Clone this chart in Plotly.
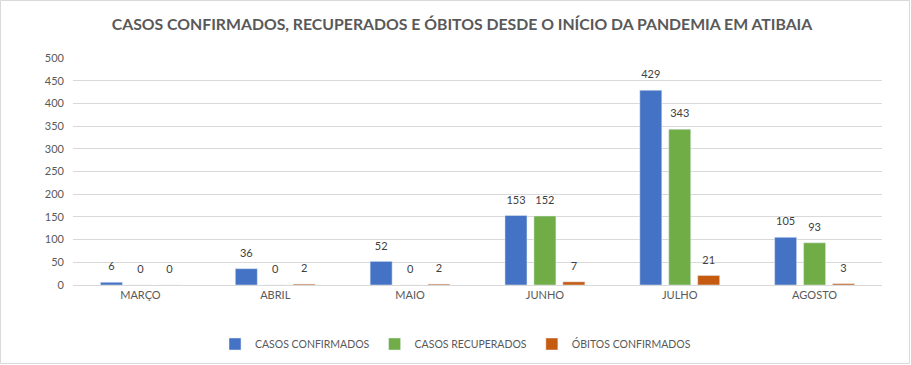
import plotly.graph_objects as go

meses = ["MARÇO", "ABRIL", "MAIO", "JUNHO", "JULHO", "AGOSTO"]
confirmados = [6, 36, 52, 153, 429, 105]
recuperados = [0, 0, 0, 152, 343, 93]
obitos = [0, 2, 2, 7, 21, 3]
y_ticks = [0, 50, 100, 150, 200, 250, 300, 350, 400, 450, 500]

series = [
    ("CASOS CONFIRMADOS", confirmados, "#4472C4"),
    ("CASOS RECUPERADOS", recuperados, "#70AD47"),
    ("ÓBITOS CONFIRMADOS", obitos, "#C55A11"),
]

FONT = "Lato, sans-serif"
GAP = 0.356

fig = go.Figure()
for i, (name, vals, color) in enumerate(series):
    fig.add_trace(go.Bar(
        x=meses, y=vals, name=name, marker_color=color,
        offsetgroup=str(i), alignmentgroup="a",
    ))
for i, (name, vals, color) in enumerate(series):
    fig.add_trace(go.Scatter(
        x=meses, y=vals, mode="markers+text", text=[str(v) for v in vals],
        textposition="top center", textfont=dict(family=FONT, size=11, color="#404040"),
        marker=dict(size=13, color="rgba(0,0,0,0)"), showlegend=False, hoverinfo="skip",
        offsetgroup=str(i), alignmentgroup="a", cliponaxis=False,
    ))

W, H = 911, 365
ml, mr, mt, mb = 73, 29, 58, 80
pw, ph = W - ml - mr, H - mt - mb

fig.update_layout(
    width=W, height=H,
    margin=dict(l=ml, r=mr, t=mt, b=mb, autoexpand=False),
    paper_bgcolor="white", plot_bgcolor="white",
    font=dict(family=FONT, size=11, color="#595959"),
    title=dict(text="<b>CASOS CONFIRMADOS, RECUPERADOS E ÓBITOS DESDE O INÍCIO DA PANDEMIA EM ATIBAIA</b>",
               x=462 / W, xanchor="center", y=1 - 24 / H, yanchor="middle",
               font=dict(family=FONT, size=15.8, color="#595959")),
    barmode="group", bargap=GAP, bargroupgap=0.24,
    scattermode="group", scattergap=GAP,
    showlegend=True,
    legend=dict(orientation="h", x=(455.5 - ml) / pw, xanchor="center", y=-(344 - 285) / ph,
                yanchor="middle", font=dict(family=FONT, size=10.5, color="#595959"),
                itemwidth=30, traceorder="normal"),
    xaxis=dict(showgrid=False, showline=True, linecolor="#D9D9D9", ticks="",
               tickfont=dict(family=FONT, size=11, color="#595959")),
    yaxis=dict(range=[0, 500], tickvals=y_ticks, showgrid=True, gridcolor="#D9D9D9",
               zeroline=False, showline=False, ticks="", ticklabelstandoff=8,
               tickfont=dict(family=FONT, size=11, color="#595959")),
    shapes=[dict(type="rect", xref="paper", yref="paper",
                 x0=-(ml - 0.5) / pw, x1=(W - ml - 1.5) / pw,
                 y0=-(mb - 1.5) / ph, y1=(ph + mt - 0.5) / ph,
                 line=dict(color="#D9D9D9", width=1), layer="below")],
)

fig.write_html("out.html", config={"displayModeBar": False},
               post_script="document.body.style.margin='0';document.body.style.overflow='hidden';")
